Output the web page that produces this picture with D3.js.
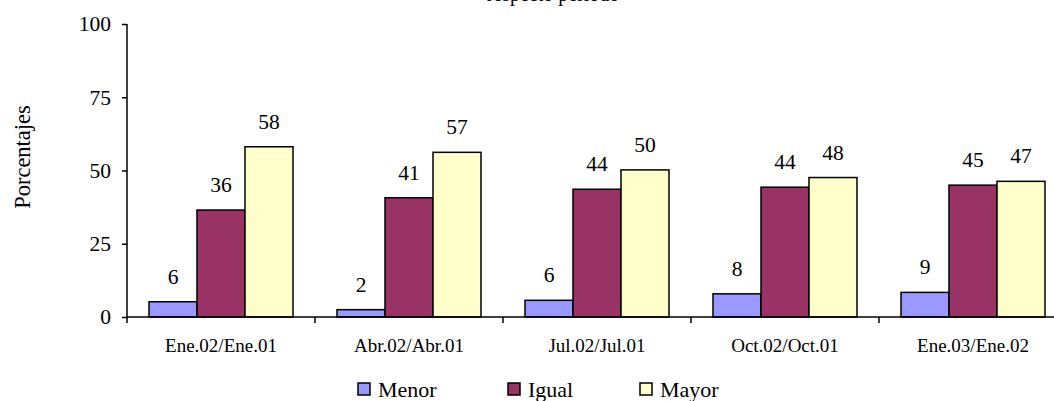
<!DOCTYPE html>
<html>
<head>
<meta charset="utf-8">
<script src="https://cdn.jsdelivr.net/npm/d3@7"></script>
<style>
  html, body { margin: 0; padding: 0; background: #fff; overflow: hidden; }
  svg { display: block; }
</style>
</head>
<body>
<svg id="chart" width="1054" height="401"></svg>
<script>
const categories = ["Ene.02/Ene.01", "Abr.02/Abr.01", "Jul.02/Jul.01", "Oct.02/Oct.01", "Ene.03/Ene.02"];
const seriesNames = ["Menor", "Igual", "Mayor"];
const menor = [5.2, 2.5, 5.7, 7.9, 8.4];
const igual = [36.5, 40.7, 43.6, 44.3, 45.0];
const mayor = [58.1, 56.2, 50.2, 47.6, 46.3];
const menorLabels = ["6", "2", "6", "8", "9"];
const igualLabels = ["36", "41", "44", "44", "45"];
const mayorLabels = ["58", "57", "50", "48", "47"];
const yTicks = [0, 25, 50, 75, 100];
const colors = ["#9999FF", "#993366", "#FFFFCC"];
const titleText = "respecto período";
const yTitle = "Porcentajes";

const values = [menor, igual, mayor];
const labels = [menorLabels, igualLabels, mayorLabels];
const FONT = "'Liberation Serif', serif";

const svg = d3.select("#chart");
const x0Left = 127, band = 188;
const x0 = d3.scaleBand().domain(categories).range([x0Left, x0Left + band * categories.length]).padding(0);
const x1 = d3.scaleBand().domain(seriesNames).range([22, 166]).padding(0);
const y = d3.scaleLinear().domain([0, 100]).range([317, 24]);

function T(sel, size) {
  return sel.attr("font-family", FONT).style("font-family", FONT)
    .style("font-size", size + "px").attr("fill", "#000");
}

// title (cut off at top, as in the reference)
T(svg.append("text").attr("x", 553).attr("y", 1).attr("text-anchor", "middle"), 20).text(titleText);

// bars
const groups = svg.append("g").selectAll("g").data(categories).join("g")
  .attr("transform", d => `translate(${x0(d)},0)`);

seriesNames.forEach((s, si) => {
  groups.append("rect")
    .attr("x", x1(s))
    .attr("width", x1.bandwidth())
    .attr("y", (d, i) => y(values[si][i]))
    .attr("height", (d, i) => y(0) - y(values[si][i]))
    .attr("fill", colors[si])
    .attr("stroke", "#000")
    .attr("stroke-width", 1.5);
  T(groups.append("text")
    .attr("x", x1(s) + x1.bandwidth() / 2)
    .attr("y", (d, i) => y(values[si][i]) - 18)
    .attr("text-anchor", "middle"), 21.5)
    .text((d, i) => labels[si][i]);
});

// y axis
const yAxis = svg.append("g").attr("transform", `translate(${x0Left},0)`)
  .call(d3.axisLeft(y).tickValues(yTicks).tickSize(5).tickPadding(11));
yAxis.select(".domain").remove();
yAxis.selectAll(".tick line").attr("stroke", "#000").attr("stroke-width", 1.5);
T(yAxis.selectAll(".tick text"), 21.5);
svg.append("line").attr("x1", x0Left).attr("x2", x0Left).attr("y1", y(100)).attr("y2", y(0) + 6)
  .attr("stroke", "#000").attr("stroke-width", 1.5);

// x axis
svg.append("line").attr("x1", x0Left).attr("x2", x0Left + band * categories.length)
  .attr("y1", y(0)).attr("y2", y(0)).attr("stroke", "#000").attr("stroke-width", 1.5);
svg.append("g").selectAll("line").data(categories).join("line")
  .attr("x1", d => x0(d) + band).attr("x2", d => x0(d) + band)
  .attr("y1", y(0)).attr("y2", y(0) + 6)
  .attr("stroke", "#000").attr("stroke-width", 1.5);
T(svg.append("g").selectAll("text").data(categories).join("text")
  .attr("x", d => x0(d) + band / 2).attr("y", 352)
  .attr("text-anchor", "middle"), 19)
  .text(d => d);

// y title
T(svg.append("text").attr("transform", "translate(30,157) rotate(-90)")
  .attr("text-anchor", "middle"), 22.5).text(yTitle);

// legend
const legendX = [358, 508, 640];
const lg = svg.append("g").selectAll("g").data(seriesNames).join("g")
  .attr("transform", (d, i) => `translate(${legendX[i]},383)`);
lg.append("rect").attr("width", 12).attr("height", 12)
  .attr("fill", (d, i) => colors[i]).attr("stroke", "#000").attr("stroke-width", 1.5);
T(lg.append("text").attr("x", 20).attr("y", 13.5), 22).text(d => d);
</script>
</body>
</html>
